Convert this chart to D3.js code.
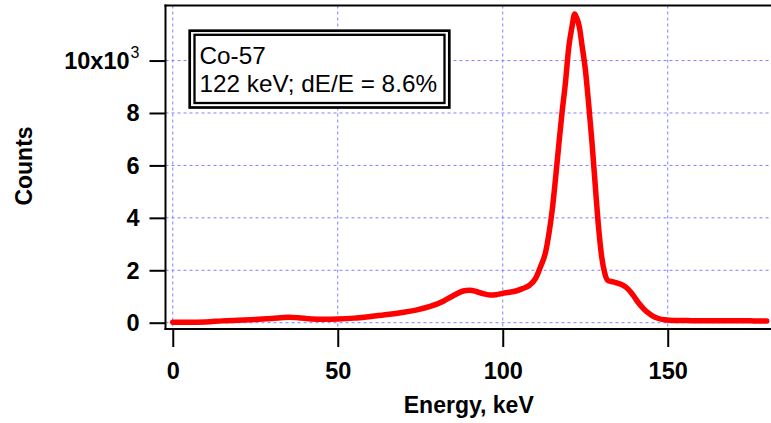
<!DOCTYPE html>
<html>
<head>
<meta charset="utf-8">
<script src="https://cdn.jsdelivr.net/npm/d3@7"></script>
<style>
  body { margin: 0; background: #fff; }
  svg { display: block; font-family: "Liberation Sans", Arial, sans-serif; }
  .axis text { font-size: 23.5px; font-weight: bold; fill: #000; }
  .axis path, .axis line { stroke: #000; stroke-width: 2; }
  .grid line { stroke: #8080ff; stroke-width: 1; stroke-dasharray: 3,3; }
  .axis-title { font-size: 23px; font-weight: bold; }
  .note { font-size: 24.3px; }
</style>
</head>
<body>
<div class="graph-container"></div>
<script>
// Co-57 spectrum
const energy = [0, 5, 10, 15, 20, 25, 30, 35, 38, 42, 46, 50, 55, 60, 65, 70, 74, 78,
  82, 85, 88, 90, 92, 94, 96, 98, 100, 102, 104, 106, 108, 110, 111.5, 113, 114, 115,
  116, 117, 118, 119, 120, 121, 121.8, 122.3, 122.9, 123.4, 124, 125, 126, 127, 128,
  129, 130, 131, 132, 133.5, 135, 136.5, 138, 139.5, 141, 142.5, 144, 145.5, 147, 149,
  152, 156, 160, 165, 170, 175, 180];
const counts = [15, 20, 30, 70, 95, 120, 160, 210, 190, 140, 130, 140, 175, 240, 310, 400, 490, 620,
  820, 1030, 1210, 1240, 1190, 1110, 1060, 1070, 1120, 1160, 1210, 1300, 1420, 1700, 2150, 2700, 3400, 4300,
  5500, 6800, 8050, 9150, 10500, 11300, 11780, 11650, 11450, 11150, 10600, 9700, 8400, 6950, 5300,
  3700, 2500, 1850, 1600, 1560, 1500, 1420, 1280, 1050, 780, 560, 380, 250, 170, 110,
  85, 80, 75, 75, 70, 70, 65];

const xTicks = [0, 50, 100, 150];
const yTicks = [0, 2000, 4000, 6000, 8000, 10000];
const yTickLabels = ['0', '2', '4', '6', '8', '10x10'];
const noteLines = ['Co-57', '122 keV; dE/E = 8.6%'];

const width = 771, height = 423;
const plot = { left: 165.5, right: 772, top: 5.5, bottom: 329 };

const svg = d3.select('.graph-container')
              .append('svg')
              .attr('width', width)
              .attr('height', height);

const xScale = d3.scaleLinear()
                 .domain([-2.2, 181.6])
                 .range([plot.left, plot.right]);
const yScale = d3.scaleLinear()
                 .domain([-240, 12100])
                 .range([plot.bottom, plot.top]);

// Grid lines
const grid = svg.append('g').attr('class', 'grid');
grid.selectAll('.gx')
    .data(xTicks)
    .join('line')
    .attr('x1', d => xScale(d)).attr('x2', d => xScale(d))
    .attr('y1', plot.top).attr('y2', plot.bottom);
grid.selectAll('.gy')
    .data(yTicks)
    .join('line')
    .attr('class', 'gy')
    .attr('x1', plot.left).attr('x2', plot.right)
    .attr('y1', d => yScale(d)).attr('y2', d => yScale(d));

// Spectrum
const data = energy.map((e, i) => ({ e: e, c: counts[i] }));
svg.append('path')
   .datum(data)
   .attr('fill', 'none')
   .attr('stroke', '#ff0000')
   .attr('stroke-width', 5.5)
   .attr('stroke-linejoin', 'round')
   .attr('stroke-linecap', 'round')
   .attr('d', d3.line()
     .curve(d3.curveMonotoneX)
     .x(d => xScale(d.e))
     .y(d => yScale(d.c)));

// Annotation box (double border)
const box = svg.append('g');
box.append('rect')
   .attr('x', 189.7).attr('y', 30.7)
   .attr('width', 259.6).attr('height', 76.8)
   .attr('fill', '#fff').attr('stroke', '#000').attr('stroke-width', 2.7);
box.append('rect')
   .attr('x', 194.5).attr('y', 34.8)
   .attr('width', 250).attr('height', 68.2)
   .attr('fill', 'none').attr('stroke', '#000').attr('stroke-width', 2.3);
box.selectAll('text')
   .data(noteLines)
   .join('text')
   .attr('class', 'note')
   .attr('x', 199.5)
   .attr('y', (d, i) => 64 + i * 28.3)
   .text(d => d);

// Axes
const xAxis = d3.axisBottom(xScale)
                .tickValues(xTicks)
                .tickSize(18)
                .tickSizeOuter(0)
                .tickFormat(d3.format('d'));
const gx = svg.append('g')
              .attr('class', 'axis x-axis')
              .attr('transform', `translate(0,${plot.bottom})`)
              .call(xAxis);
gx.selectAll('text').attr('y', 50).attr('dy', 0);

const yAxis = d3.axisLeft(yScale)
                .tickValues(yTicks)
                .tickSize(16)
                .tickSizeOuter(0)
                .tickFormat((d, i) => yTickLabels[i]);
const gy = svg.append('g')
              .attr('class', 'axis y-axis')
              .attr('transform', `translate(${plot.left},0)`)
              .call(yAxis);
gy.selectAll('text').attr('x', -26).attr('dy', 8);
// superscript exponent on the top label
gy.selectAll('text')
  .filter(d => d === 10000)
  .append('tspan')
  .attr('dx', 1)
  .attr('dy', -11)
  .attr('font-size', 16)
  .attr('font-weight', 'normal')
  .text('3');
gy.select('.domain').attr('d', `M0,${plot.top - 1}V${plot.bottom + 1}`);
gx.select('.domain').attr('d', `M${plot.left - 1},0H${plot.right}`);

// top frame line
svg.append('line')
   .attr('x1', plot.left - 1).attr('x2', plot.right)
   .attr('y1', plot.top).attr('y2', plot.top)
   .attr('stroke', '#000').attr('stroke-width', 2);

// Axis titles
svg.append('text')
   .attr('class', 'axis-title')
   .attr('x', (plot.left + plot.right) / 2)
   .attr('y', 413)
   .attr('text-anchor', 'middle')
   .text('Energy, keV');
svg.append('text')
   .attr('class', 'axis-title')
   .attr('text-anchor', 'middle')
   .attr('transform', 'translate(31.5,166) rotate(-90)')
   .text('Counts');
</script>
</body>
</html>
